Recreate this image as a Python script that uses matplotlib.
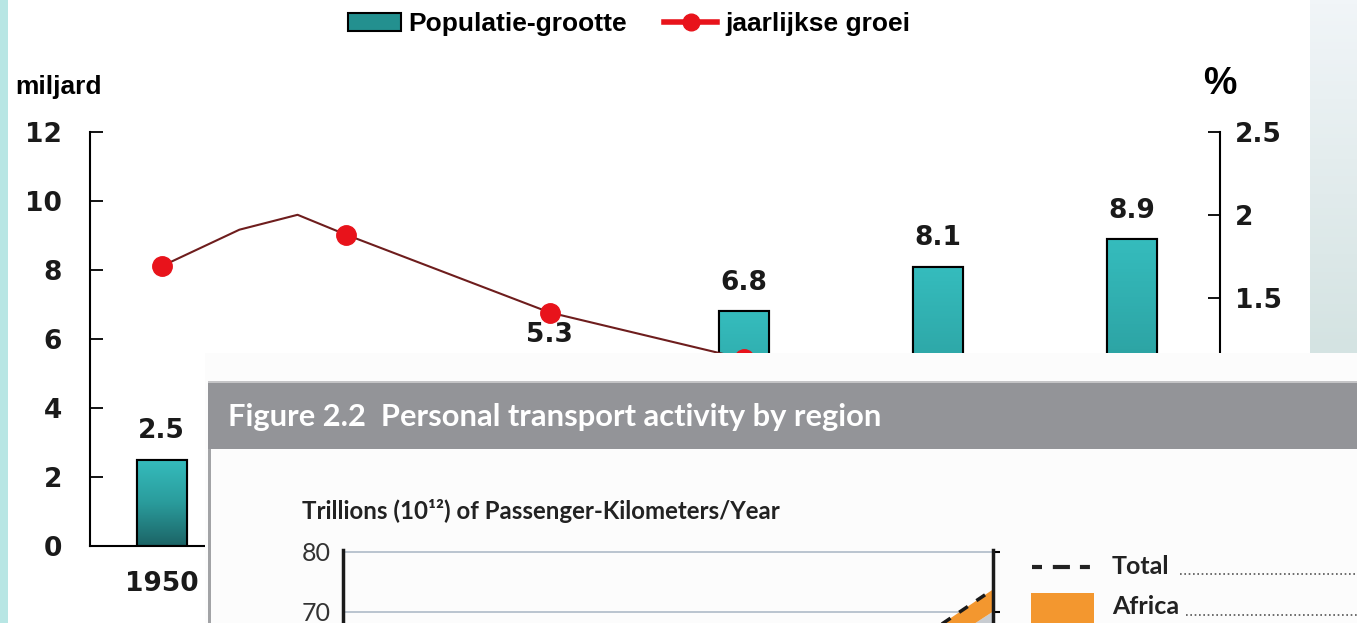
import numpy as np
import matplotlib
matplotlib.use("Agg")
import matplotlib.pyplot as plt
from matplotlib.patches import Rectangle, Patch
from matplotlib.lines import Line2D

# population chart (miljard) and yearly growth (%)
years = [1950, 1970, 1990, 2010, 2030, 2050]
population = [2.5, 3.7, 5.3, 6.8, 8.1, 8.9]
growth_years = [1950, 1958, 1964, 1969, 1990, 2010, 2030, 2050]
growth = [1.69, 1.91, 2.0, 1.88, 1.41, 1.13, 0.8, 0.45]
growth_markers = [0, 3, 4, 5, 6, 7]

# pasted-over figure: personal transport activity (10^12 pkm/year)
tr_years = [2000, 2010, 2020, 2030, 2040, 2050]
tr_total = [33.0, 39.5, 46.0, 52.5, 59.0, 73.7]
tr_africa = [1.0, 1.4, 1.9, 2.5, 3.2, 3.7]
tr_rest = [t - a for t, a in zip(tr_total, tr_africa)]
tr_ticks = [70, 80]  # the only ones inside the picture

W, H = 1357, 623
NARROW = ['Liberation Sans Narrow', 'Liberation Sans', 'DejaVu Sans']
WIDE = ['DejaVu Sans']
MYRIAD = ['Lato', 'DejaVu Sans']

fig = plt.figure(figsize=(W / 100, H / 100), dpi=100)
fig.patch.set_facecolor('white')

# ---- main chart
ax = fig.add_axes([90 / W, 77 / H, 1130 / W, 414 / H], zorder=1)
ax2 = ax.twinx()
ax2.set_zorder(2)

bars = ax.bar(years, population, width=5.2, color='#2aa9a9', edgecolor='black',
              linewidth=1.5, zorder=2)
grad = np.linspace(0, 1, 100).reshape(-1, 1)
teal = matplotlib.colors.LinearSegmentedColormap.from_list(
    'teal', ['#1c6466', '#2a9c9c', '#35bcbd'])
for b in bars:
    x0, w, h = b.get_x(), b.get_width(), b.get_height()
    im = ax.imshow(grad, extent=[x0, x0 + w, 0, h], origin='lower', cmap=teal,
                   aspect='auto', zorder=2.5)
    im.set_clip_path(b)
    edge = Rectangle((x0, 0), w, h, fill=False, ec='black', lw=1.5, zorder=3)
    ax.add_patch(edge)
ax.bar_label(bars, labels=[f'{v:.1f}' for v in population], padding=11,
             fontsize=19, fontweight='bold', family=WIDE, color='#1a1a1a')

ax.set_xlim(1942.6, 2059.1)
ax.set_ylim(0, 12)
ax.set_yticks(range(0, 13, 2))
ax.set_xticks(years)
ax.set_xticklabels([str(y) for y in years])
ax.tick_params(axis='y', direction='in', length=9, width=1.3, pad=20,
               labelsize=19)
ax.tick_params(axis='x', length=0, pad=18, labelsize=19)
for lab in ax.get_yticklabels() + ax.get_xticklabels():
    lab.set_fontweight('bold')
    lab.set_family(WIDE)
    lab.set_color('#1a1a1a')
ax.spines['top'].set_visible(False)
ax.spines['right'].set_visible(False)
ax.spines['left'].set_linewidth(1.5)
ax.spines['bottom'].set_linewidth(1.5)

line, = ax2.plot(growth_years, growth, color='#6e1d1d', lw=1.5, marker='o',
                 markevery=growth_markers, ms=14, mfc='#e8131b', mec='#e8131b')
ax2.set_ylim(0, 2.5)
ax2.set_yticks([0, 0.5, 1, 1.5, 2, 2.5])
ax2.set_yticklabels(['0', '0.5', '1', '1.5', '2', '2.5'])
ax2.tick_params(axis='y', direction='in', length=9, width=1.3, pad=11,
                labelsize=19)
for lab in ax2.get_yticklabels():
    lab.set_fontweight('bold')
    lab.set_family(WIDE)
    lab.set_color('#1a1a1a')
for s in ['top', 'left', 'bottom']:
    ax2.spines[s].set_visible(False)
ax2.spines['right'].set_linewidth(1.5)

fig.text(15 / W, 1 - 87 / H, 'miljard', ha='left', va='center', fontsize=19,
         fontweight='bold', family=NARROW)
fig.text(1220 / W, 1 - 84 / H, '%', ha='center', va='center', fontsize=27,
         fontweight='bold', family=NARROW)

handles = [Patch(facecolor='#23908f', edgecolor='black', linewidth=1.5),
           Line2D([], [], color='#e8131b', lw=4, marker='o', ms=12)]
fig.legend(handles, ['Populatie-grootte', 'jaarlijkse groei'], loc='center',
           bbox_to_anchor=(629 / W, 1 - 24 / H), ncol=2, frameon=False,
           handlelength=2.0, handleheight=0.7, columnspacing=1.4,
           handletextpad=0.3,
           prop={'family': NARROW, 'weight': 'bold', 'size': 19})

# ---- decoration and pasted-over panel, drawn in pixel coordinates
ov = fig.add_axes([0, 0, 1, 1], zorder=3)
ov.patch.set_visible(False)
side = np.linspace(0, 1, 100).reshape(-1, 1)
pale = matplotlib.colors.LinearSegmentedColormap.from_list('pale', ['#f1f5f8', '#d4e3e2'])
ov.imshow(side, extent=[1310, W, 353, 0], origin='upper', cmap=pale, aspect='auto')
ov.add_patch(Rectangle((0, 0), 8, H, fc='#b8e6e4', ec='none'))
ov.add_patch(Rectangle((205, 353), W - 205, H - 353, fc='#fcfcfc', ec='none'))
ov.add_patch(Rectangle((208, 381), W - 208, 68, fc='#939498', ec='none'))
ov.add_patch(Rectangle((208, 381), W - 208, 1.5, fc='#c4c4c6', ec='none'))
ov.add_patch(Rectangle((208, 449), 3, H - 449, fc='#a2a3a6', ec='none'))
ov.text(228, 417, 'Figure 2.2  Personal transport activity by region', color='white',
        fontsize=22.2, fontweight='bold', family=MYRIAD, ha='left', va='center')
ov.text(302, 511, 'Trillions (10\u00b9\u00b2) of Passenger-Kilometers/Year',
        color='#222222', fontsize=17.3, fontweight='bold', family=MYRIAD,
        ha='left', va='center')
ov.plot([1032, 1090], [567, 567], color='#222222', lw=3,
        dashes=(2.4, 2.6, 4.1, 2.4, 2.4, 10))
ov.add_patch(Rectangle((1031, 593), 63, 40, fc='#f3972f', ec='none'))
ov.text(1112, 566, 'Total', color='#222222', fontsize=18, fontweight='bold',
        family=MYRIAD, ha='left', va='center')
ov.text(1112, 607, 'Africa', color='#222222', fontsize=18, fontweight='bold',
        family=MYRIAD, ha='left', va='center')
ov.plot([1180, W], [574, 574], color='#555555', lw=1.2, ls=(0, (1, 1.6)))
ov.plot([1186, W], [615, 615], color='#555555', lw=1.2, ls=(0, (1, 1.6)))
ov.set_xlim(0, W)
ov.set_ylim(H, 0)
ov.axis('off')

# ---- transport chart (only its upper part falls inside the picture)
tr = fig.add_axes([343 / W, (623 - 1030) / H, 650 / W, 480 / H], zorder=4)
tr.patch.set_visible(False)
tr.stackplot(tr_years, tr_rest, tr_africa, colors=['#c8ccd1', '#f3972f'])
tr.plot(tr_years, tr_total, color='#1a1a1a', lw=2.5, dashes=(3, 3))
tr.set_xlim(2000, 2050)
tr.set_ylim(0, 80.3)
tr.set_yticks(tr_ticks)
tr.yaxis.grid(True, color='#b5c0cc', lw=1.3)
tr.set_axisbelow(True)
tr.tick_params(axis='y', left=False, right=True, length=5, width=1.5,
               labelleft=True, labelright=False, pad=4, labelsize=18,
               labelcolor='#333333')
tr.tick_params(axis='x', bottom=False, labelbottom=False)
for lab in tr.get_yticklabels():
    lab.set_family(MYRIAD)
tr.spines['top'].set_visible(False)
tr.spines['bottom'].set_visible(False)
tr.spines['left'].set_linewidth(2.5)
tr.spines['right'].set_linewidth(2.5)
tr.spines['left'].set_color('#1a1a1a')
tr.spines['right'].set_color('#1a1a1a')

fig.savefig('out.png', dpi=100)
